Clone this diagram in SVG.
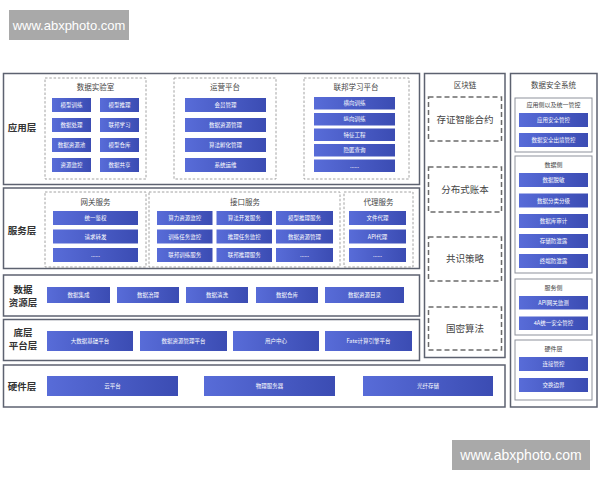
<svg xmlns="http://www.w3.org/2000/svg" width="600" height="480" viewBox="0 0 600 480">
<defs>
<linearGradient id="g" x1="0" y1="0" x2="1" y2="0">
<stop offset="0" stop-color="#586cd8"/>
<stop offset="1" stop-color="#3b4cb3"/>
</linearGradient>
<style>
text{font-family:"Noto Sans CJK SC","Noto Sans",sans-serif}
.frame{fill:#fff;stroke:#5d6270;stroke-width:1.5}
.dash{fill:none;stroke:#8c8c8c;stroke-width:0.8;stroke-dasharray:2.5 1.8}
.bdash{fill:none;stroke:#6b6b6b;stroke-width:1.5;stroke-dasharray:5 3}
.sub{fill:#fff;stroke:#8d919b;stroke-width:1}
.btn{fill:url(#g)}
.bt{font-size:5.5px;fill:#fff;text-anchor:middle}
.lbl{font-size:9.5px;font-weight:bold;fill:#333;text-anchor:middle}
.gt{font-size:7.5px;fill:#444;text-anchor:middle}
.st{font-size:6px;fill:#444;text-anchor:middle}
.ct{font-size:9.5px;fill:#444;text-anchor:middle}
.wm{fill:#a9a9a9}
.wmt{font-family:"Liberation Sans",sans-serif;fill:#fff;text-anchor:middle}
</style>
</defs>
<rect width="600" height="480" fill="#fff"/>

<g id="watermark-top">
<rect class="wm" x="9" y="10" width="120" height="30"/>
<text class="wmt" x="69" y="30" font-size="13">www.abxphoto.com</text>
</g>

<!-- 应用层 -->
<g id="app-layer">
<rect class="frame" x="3.5" y="73.5" width="416" height="111"/>
<text class="lbl" x="22" y="131">应用层</text>
</g>
<g id="data-lab">
<rect class="dash" x="45" y="78" width="101" height="101"/>
<text class="gt" x="95.5" y="90">数据实验室</text>
<rect class="btn" x="52" y="98" width="39" height="14"/><text class="bt" x="71.5" y="107">模型训练</text>
<rect class="btn" x="100" y="98" width="39" height="14"/><text class="bt" x="119.5" y="107">模型推理</text>
<rect class="btn" x="52" y="118" width="39" height="14"/><text class="bt" x="71.5" y="127">数据处理</text>
<rect class="btn" x="100" y="118" width="39" height="14"/><text class="bt" x="119.5" y="127">联邦学习</text>
<rect class="btn" x="52" y="138" width="39" height="14"/><text class="bt" x="71.5" y="147">数据资源池</text>
<rect class="btn" x="100" y="138" width="39" height="14"/><text class="bt" x="119.5" y="147">模型仓库</text>
<rect class="btn" x="52" y="158" width="39" height="14"/><text class="bt" x="71.5" y="167">资源监控</text>
<rect class="btn" x="100" y="158" width="39" height="14"/><text class="bt" x="119.5" y="167">数据共享</text>
</g>
<g id="ops-platform">
<rect class="dash" x="174" y="78" width="102" height="101"/>
<text class="gt" x="225" y="90">运营平台</text>
<rect class="btn" x="185" y="98" width="81" height="14"/><text class="bt" x="225.5" y="107">会员管理</text>
<rect class="btn" x="185" y="118" width="81" height="14"/><text class="bt" x="225.5" y="127">数据资源管理</text>
<rect class="btn" x="185" y="138" width="81" height="14"/><text class="bt" x="225.5" y="147">算法孵化管理</text>
<rect class="btn" x="185" y="158" width="81" height="14"/><text class="bt" x="225.5" y="167">系统运维</text>
</g>
<g id="fl-platform">
<rect class="dash" x="304" y="78" width="105" height="101"/>
<text class="gt" x="356" y="90">联邦学习平台</text>
<rect class="btn" x="314" y="97" width="81" height="12.5"/><text class="bt" x="354.5" y="105.2">横向训练</text>
<rect class="btn" x="314" y="113" width="81" height="12.5"/><text class="bt" x="354.5" y="121.2">纵向训练</text>
<rect class="btn" x="314" y="128.5" width="81" height="12.5"/><text class="bt" x="354.5" y="136.7">特征工程</text>
<rect class="btn" x="314" y="144" width="81" height="12.5"/><text class="bt" x="354.5" y="152.2">隐匿查询</text>
<rect class="btn" x="314" y="159.5" width="81" height="12.5"/><text class="bt" x="354.5" y="167.7">......</text>
</g>

<!-- 服务层 -->
<g id="service-layer">
<rect class="frame" x="3.5" y="188" width="416" height="80.5"/>
<text class="lbl" x="22" y="234">服务层</text>
</g>
<g id="gateway">
<rect class="dash" x="45" y="192" width="101" height="75"/>
<text class="gt" x="95.5" y="205">网关服务</text>
<rect class="btn" x="53" y="211" width="85" height="14"/><text class="bt" x="95.5" y="220">统一鉴权</text>
<rect class="btn" x="53" y="229.5" width="85" height="14"/><text class="bt" x="95.5" y="238.5">请求转发</text>
<rect class="btn" x="53" y="248" width="85" height="14"/><text class="bt" x="95.5" y="257">......</text>
</g>
<g id="interface">
<rect class="dash" x="149" y="192" width="191" height="75"/>
<text class="gt" x="245" y="205">接口服务</text>
<rect class="btn" x="157" y="211" width="55.5" height="14"/><text class="bt" x="184.7" y="220">算力资源监控</text>
<rect class="btn" x="216.5" y="211" width="55.5" height="14"/><text class="bt" x="244.2" y="220">算法开发服务</text>
<rect class="btn" x="276" y="211" width="57" height="14"/><text class="bt" x="304.5" y="220">模型推理服务</text>
<rect class="btn" x="157" y="229.5" width="55.5" height="14"/><text class="bt" x="184.7" y="238.5">训练任务监控</text>
<rect class="btn" x="216.5" y="229.5" width="55.5" height="14"/><text class="bt" x="244.2" y="238.5">推理任务监控</text>
<rect class="btn" x="276" y="229.5" width="57" height="14"/><text class="bt" x="304.5" y="238.5">数据资源管理</text>
<rect class="btn" x="157" y="248" width="55.5" height="14"/><text class="bt" x="184.7" y="257">联邦训练服务</text>
<rect class="btn" x="216.5" y="248" width="55.5" height="14"/><text class="bt" x="244.2" y="257">联邦推理服务</text>
<rect class="btn" x="276" y="248" width="57" height="14"/><text class="bt" x="304.5" y="257">......</text>
</g>
<g id="proxy">
<rect class="dash" x="344" y="192" width="69" height="75"/>
<text class="gt" x="378.5" y="205">代理服务</text>
<rect class="btn" x="349" y="211" width="57" height="14"/><text class="bt" x="377.5" y="220">文件代理</text>
<rect class="btn" x="349" y="229.5" width="57" height="14"/><text class="bt" x="377.5" y="238.5">API代理</text>
<rect class="btn" x="349" y="248" width="57" height="14"/><text class="bt" x="377.5" y="257">......</text>
</g>

<!-- 数据资源层 -->
<g id="data-resource-layer">
<rect class="frame" x="3.5" y="275" width="416" height="41"/>
<text class="lbl" x="23" y="293">数据</text>
<text class="lbl" x="23" y="306">资源层</text>
<rect class="btn" x="47" y="287" width="63" height="16"/><text class="bt" x="78.5" y="297">数据集成</text>
<rect class="btn" x="117" y="287" width="62" height="16"/><text class="bt" x="148" y="297">数据治理</text>
<rect class="btn" x="186" y="287" width="62" height="16"/><text class="bt" x="217" y="297">数据清洗</text>
<rect class="btn" x="256" y="287" width="62" height="16"/><text class="bt" x="287" y="297">数据仓库</text>
<rect class="btn" x="325" y="287" width="79" height="16"/><text class="bt" x="364.5" y="297">数据资源目录</text>
</g>

<!-- 底层平台层 -->
<g id="platform-layer">
<rect class="frame" x="3.5" y="319.5" width="416" height="41"/>
<text class="lbl" x="23" y="336">底层</text>
<text class="lbl" x="23" y="349">平台层</text>
<rect class="btn" x="47" y="331" width="86" height="20"/><text class="bt" x="90" y="343">大数据基础平台</text>
<rect class="btn" x="140" y="331" width="87" height="20"/><text class="bt" x="183.5" y="343">数据资源管理平台</text>
<rect class="btn" x="233" y="331" width="86" height="20"/><text class="bt" x="276" y="343">用户中心</text>
<rect class="btn" x="325" y="331" width="87" height="20"/><text class="bt" x="368.5" y="343">Fate计算引擎平台</text>
</g>

<!-- 硬件层 -->
<g id="hardware-layer">
<rect class="frame" x="3.5" y="365" width="501.5" height="42"/>
<text class="lbl" x="22" y="390">硬件层</text>
<rect class="btn" x="47" y="376" width="131" height="20"/><text class="bt" x="112.5" y="388">云平台</text>
<rect class="btn" x="204" y="376" width="131" height="20"/><text class="bt" x="269.5" y="388">物理服务器</text>
<rect class="btn" x="363" y="376" width="130" height="20"/><text class="bt" x="428" y="388">光纤存储</text>
</g>

<!-- 区块链 -->
<g id="blockchain">
<rect class="frame" x="424.5" y="73.5" width="80.5" height="284"/>
<text class="gt" x="465" y="88">区块链</text>
<rect class="bdash" x="428.5" y="97" width="73" height="44"/><text class="ct" x="465" y="123">存证智能合约</text>
<rect class="bdash" x="428.5" y="167" width="73" height="45"/><text class="ct" x="465" y="193">分布式账本</text>
<rect class="bdash" x="428.5" y="237" width="73" height="44"/><text class="ct" x="465" y="262">共识策略</text>
<rect class="bdash" x="428.5" y="307" width="73" height="43"/><text class="ct" x="465" y="332">国密算法</text>
</g>

<!-- 数据安全系统 -->
<g id="data-security">
<rect class="frame" x="510.5" y="73.5" width="86.5" height="333.5"/>
<text class="gt" x="553.5" y="88">数据安全系统</text>
</g>
<g id="sec-app">
<rect class="sub" x="515" y="98" width="77" height="54"/>
<text class="st" x="553.5" y="106.5">应用侧以及统一管控</text>
<rect class="btn" x="519" y="113" width="69" height="14"/><text class="bt" x="553.5" y="122">应用安全管控</text>
<rect class="btn" x="519" y="133" width="69" height="14"/><text class="bt" x="553.5" y="142">数据安全出境管控</text>
</g>
<g id="sec-data">
<rect class="sub" x="515" y="156" width="77" height="117"/>
<text class="st" x="553.5" y="167">数据侧</text>
<rect class="btn" x="519" y="173" width="69" height="14"/><text class="bt" x="553.5" y="182">数据脱敏</text>
<rect class="btn" x="519" y="193.5" width="69" height="14"/><text class="bt" x="553.5" y="202.5">数据分类分级</text>
<rect class="btn" x="519" y="214" width="69" height="14"/><text class="bt" x="553.5" y="223">数据库审计</text>
<rect class="btn" x="519" y="234" width="69" height="14"/><text class="bt" x="553.5" y="243">存储防泄露</text>
<rect class="btn" x="519" y="254" width="69" height="14"/><text class="bt" x="553.5" y="263">终端防泄露</text>
</g>
<g id="sec-service">
<rect class="sub" x="515" y="279" width="77" height="56"/>
<text class="st" x="553.5" y="290">服务侧</text>
<rect class="btn" x="519" y="296" width="69" height="13.5"/><text class="bt" x="553.5" y="304.8">API网关监测</text>
<rect class="btn" x="519" y="316.5" width="69" height="13.5"/><text class="bt" x="553.5" y="325.3">4A统一安全管控</text>
</g>
<g id="sec-hardware">
<rect class="sub" x="515" y="340" width="77" height="60"/>
<text class="st" x="553.5" y="351">硬件层</text>
<rect class="btn" x="519" y="357" width="69" height="14"/><text class="bt" x="553.5" y="366">连接管控</text>
<rect class="btn" x="519" y="378" width="69" height="14"/><text class="bt" x="553.5" y="387">交换边界</text>
</g>

<g id="watermark-bottom">
<rect class="wm" x="452" y="440" width="138" height="30"/>
<text class="wmt" x="521" y="460" font-size="14">www.abxphoto.com</text>
</g>
</svg>
